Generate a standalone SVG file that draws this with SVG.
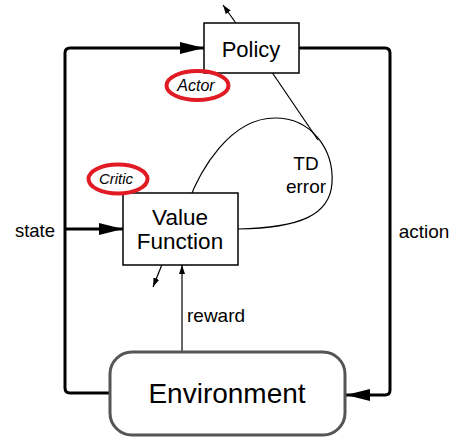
<svg xmlns="http://www.w3.org/2000/svg" width="463" height="442" viewBox="0 0 463 442">
<defs>
<marker id="big" markerWidth="24" markerHeight="12" refX="24" refY="6" orient="auto" markerUnits="userSpaceOnUse"><path d="M0,0 L24,6 L0,12 Z" fill="#000"/></marker>
<marker id="small" markerWidth="9" markerHeight="6" refX="9" refY="3" orient="auto" markerUnits="userSpaceOnUse"><path d="M0,0 L9,3 L0,6 Z" fill="#000"/></marker>
</defs>
<style>
.box{fill:#fff;stroke:#000;stroke-width:1.5}
.env{fill:#fff;stroke:#555;stroke-width:3}
.thick{fill:none;stroke:#000;stroke-width:3}
.thin{fill:none;stroke:#000;stroke-width:1.2}
.t{font-family:"Liberation Sans",Arial,sans-serif;fill:#000}
.red{fill:none;stroke:#e01b24;stroke-width:4}
</style>
<g id="connectors">
<path class="thick" d="M110,393 L70,393 Q65,393 65,388 L65,53 Q65,48 70,48 L204,48" marker-end="url(#big)"/>
<path class="thick" d="M65,229 L123,229" marker-end="url(#big)"/>
<path class="thick" d="M299,48 L385,48 Q390,48 390,53 L390,390 Q390,395 385,395 L346,395" marker-end="url(#big)"/>
<path class="thin" d="M182,352 L182,265" marker-end="url(#small)"/>
<path class="thin" d="M165,257 L153,287" marker-end="url(#small)"/>
<path class="thin" d="M243,33 L223,5" marker-end="url(#small)"/>
<path class="thin" d="M265,62 L318,140"/>
<path class="thin" d="M188,203 C200,170 230,118 275,118 C312,118 334,150 332,183 C330,215 300,228 238,229"/>
<text class="t" x="35" y="237" font-size="18.5" text-anchor="middle">state</text>
<text class="t" x="424" y="238" font-size="19" text-anchor="middle">action</text>
<text class="t" x="187" y="322" font-size="19">reward</text>
<text class="t" x="306" y="170" font-size="19" text-anchor="middle">TD</text>
<text class="t" x="306" y="193" font-size="19" text-anchor="middle">error</text>
</g>
<g id="policy">
<rect class="box" x="204" y="23" width="95" height="50"/>
<text class="t" x="251" y="57" font-size="22" text-anchor="middle">Policy</text>
</g>
<g id="value-function">
<rect class="box" x="123" y="193" width="115" height="72"/>
<text class="t" x="180" y="225" font-size="22.5" text-anchor="middle">Value</text>
<text class="t" x="180" y="249" font-size="22.5" text-anchor="middle">Function</text>
</g>
<g id="environment">
<rect class="env" x="110" y="352" width="235" height="83" rx="22"/>
<text class="t" x="227" y="403" font-size="28" text-anchor="middle">Environment</text>
</g>
<g id="actor">
<ellipse class="red" cx="197.5" cy="85.5" rx="31" ry="14.5"/>
<text class="t" x="196" y="91" font-size="16" font-style="italic" text-anchor="middle">Actor</text>
</g>
<g id="critic">
<ellipse class="red" cx="118" cy="179" rx="29.5" ry="14.5"/>
<text class="t" x="116" y="184" font-size="15" font-style="italic" text-anchor="middle">Critic</text>
</g>
</svg>
